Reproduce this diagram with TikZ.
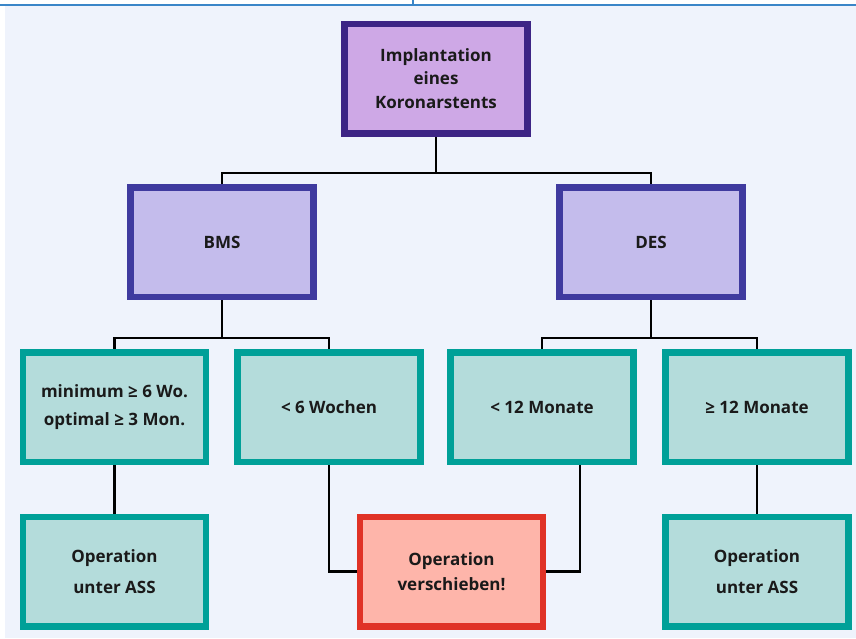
\documentclass[tikz,border=0pt]{standalone}
\usepackage{fontspec}
\setmainfont{Open Sans}
\usepackage{xcolor}
\usetikzlibrary{backgrounds}

\definecolor{bgblue}{HTML}{EFF3FC}
\definecolor{ruleblue}{HTML}{3A86C8}
\definecolor{topfill}{HTML}{CEA8E6}
\definecolor{topline}{HTML}{3D2485}
\definecolor{stentfill}{HTML}{C4BCEC}
\definecolor{stentline}{HTML}{3F3A9F}
\definecolor{timefill}{HTML}{B4DCDB}
\definecolor{timeline}{HTML}{00A098}
\definecolor{stopfill}{HTML}{FEB5AA}
\definecolor{stopline}{HTML}{E03226}
\definecolor{textblack}{HTML}{1A1A1A}

\begin{document}
\begin{tikzpicture}[x=1pt,y=-1pt]
    \tikzstyle{every node}+=[inner sep=0pt, align=center, text=textblack]
    \tikzstyle{box}=[draw, line width=6.5pt, minimum width=183pt, minimum height=109.5pt]
    \tikzstyle{rootbox}=[box, draw=topline, fill=topfill, font=\fontsize{17}{23.5}\selectfont\bfseries]
    \tikzstyle{stentbox}=[box, draw=stentline, fill=stentfill, font=\fontsize{17}{23.5}\selectfont\bfseries]
    \tikzstyle{timebox}=[box, draw=timeline, fill=timefill, font=\fontsize{17}{28}\selectfont\bfseries]
    \tikzstyle{opbox}=[box, draw=timeline, fill=timefill, font=\fontsize{17}{31}\selectfont\bfseries]
    \tikzstyle{stopbox}=[box, draw=stopline, fill=stopfill, font=\fontsize{17}{25}\selectfont\bfseries]
    \tikzstyle{link}=[draw=black, line width=2.8pt]
    \useasboundingbox (0,0) rectangle (856,638);
    \node [rootbox] (implant) at (436,78.5) {Implantation\\eines\\Koronarstents};
    \node [stentbox] (bms) at (222,242) {BMS};
    \node [stentbox] (des) at (651,242) {DES};
    \node [timebox] (minimum) at (114.5,407) {minimum ≥ 6 Wo.\\optimal ≥ 3 Mon.};
    \node [timebox] (sechs) at (329,407) {< 6 Wochen};
    \node [timebox] (zwoelf) at (542,407) {< 12 Monate};
    \node [timebox] (ueber) at (757,407) {≥ 12 Monate};
    \node [opbox] (assleft) at (114.5,571.5) {Operation\\unter ASS};
    \node [stopbox] (shift) at (451.5,571.5) {Operation\\verschieben!};
    \node [opbox] (assright) at (757,571.5) {Operation\\unter ASS};
    \coordinate (split) at (436,173);
    \coordinate (bmssplit) at (222,338);
    \coordinate (dessplit) at (651,338);
    \begin{pgfonlayer}{background}
    \fill [bgblue] (5,6) rectangle (856,638);
    \draw [ruleblue, line width=2pt] (0,5) -- (856,5);
    \draw [ruleblue, line width=1.5pt] (413,0) -- (413,5);
    \draw [link] (implant) -- (split);
    \draw [link] (bms.north) |- (split) -| (des.north);
    \draw [link] (bms) -- (bmssplit);
    \draw [link] (minimum.north) |- (bmssplit) -| (sechs.north);
    \draw [link] (des) -- (dessplit);
    \draw [link] (zwoelf.north) |- (dessplit) -| (ueber.north);
    \draw [link] (minimum) -- (assleft);
    \draw [link] (ueber) -- (assright);
    \draw [link] (sechs.south) |- (shift.west);
    \draw [link] ([xshift=38pt]zwoelf.south) |- (shift.east);
    \end{pgfonlayer}
\end{tikzpicture}
\end{document}
